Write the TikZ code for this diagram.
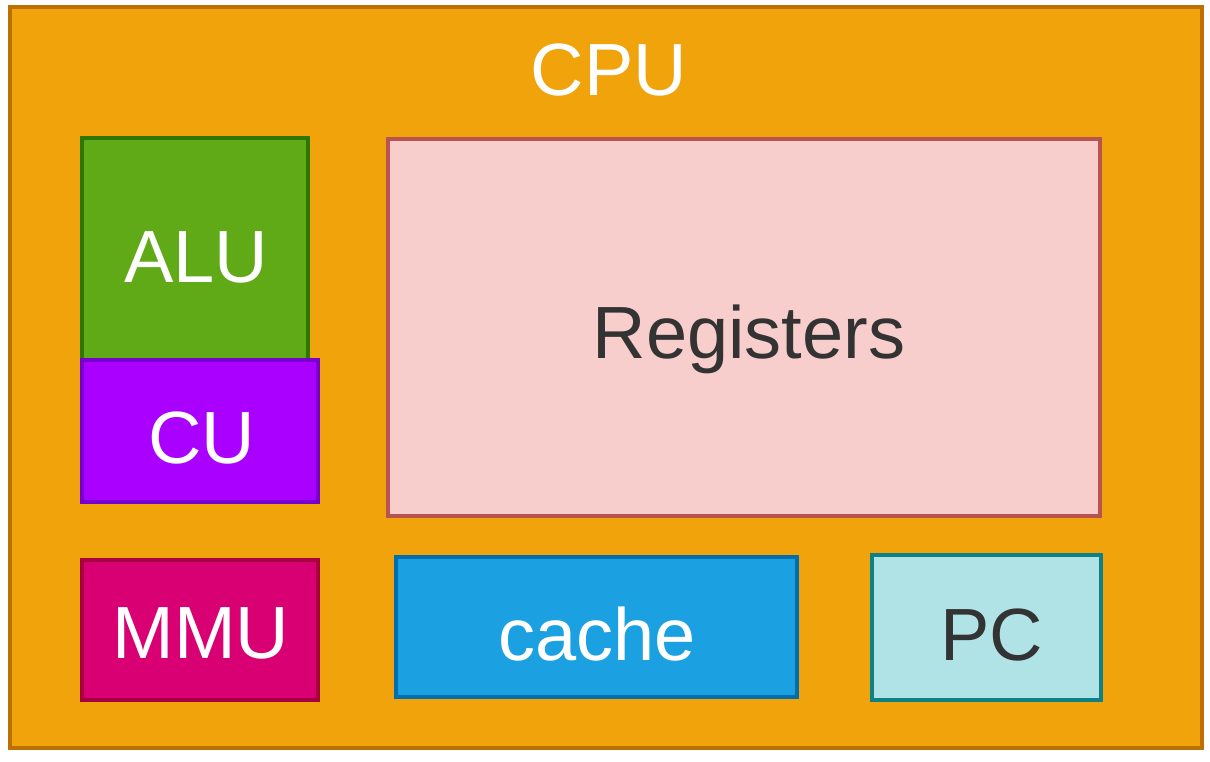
\documentclass[tikz,border=0pt]{standalone}
\usepackage{fontspec}
\setmainfont{Liberation Sans}
\definecolor{cpuF}{HTML}{F0A30A}\definecolor{cpuS}{HTML}{BD7000}
\definecolor{aluF}{HTML}{60A917}\definecolor{aluS}{HTML}{2D7600}
\definecolor{cuF}{HTML}{AA00FF}\definecolor{cuS}{HTML}{7700CC}
\definecolor{regF}{HTML}{F8CECC}\definecolor{regS}{HTML}{B85450}
\definecolor{mmuF}{HTML}{D80073}\definecolor{mmuS}{HTML}{A50040}
\definecolor{cacF}{HTML}{1BA1E2}\definecolor{cacS}{HTML}{006EAF}
\definecolor{pcF}{HTML}{B0E3E6}\definecolor{pcS}{HTML}{0E8088}
\definecolor{darktext}{HTML}{333333}
\begin{document}
\begin{tikzpicture}[x=1pt,y=-1pt,
  box/.style={draw, line width=3.5pt, rectangle, inner sep=0pt, outer sep=0pt, anchor=north west},
  lbl/.style={anchor=base, inner sep=0pt, font=\fontsize{74}{80}\selectfont}]
\useasboundingbox (0,0) rectangle (1210,761);
\node[box, fill=cpuF, draw=cpuS, minimum width=1192pt, minimum height=741pt] (cpu) at (10,7) {};
\node[lbl, text=white] (cput) at (609,95) {CPU};
\node[box, fill=aluF, draw=aluS, minimum width=226pt, minimum height=224pt] (alu) at (82,138) {};
\node[lbl, text=white] (alut) at (196,282) {ALU};
\node[box, fill=cuF, draw=cuS, minimum width=236pt, minimum height=142pt] (cu) at (82,360) {};
\node[lbl, text=white] (cut) at (202,463) {CU};
\node[box, fill=regF, draw=regS, minimum width=712pt, minimum height=377pt] (reg) at (388,139) {};
\node[lbl, text=darktext] (regt) at (749,358) {Registers};
\node[box, fill=mmuF, draw=mmuS, minimum width=236pt, minimum height=140pt] (mmu) at (82,560) {};
\node[lbl, text=white] (mmut) at (201,658) {MMU};
\node[box, fill=cacF, draw=cacS, minimum width=401pt, minimum height=140pt] (cache) at (396,557) {};
\node[lbl, text=white] (cachet) at (597,660) {cache};
\node[box, fill=pcF, draw=pcS, minimum width=229pt, minimum height=145pt] (pc) at (872,555) {};
\node[lbl, text=darktext] (pct) at (992,660) {PC};
\end{tikzpicture}
\end{document}
